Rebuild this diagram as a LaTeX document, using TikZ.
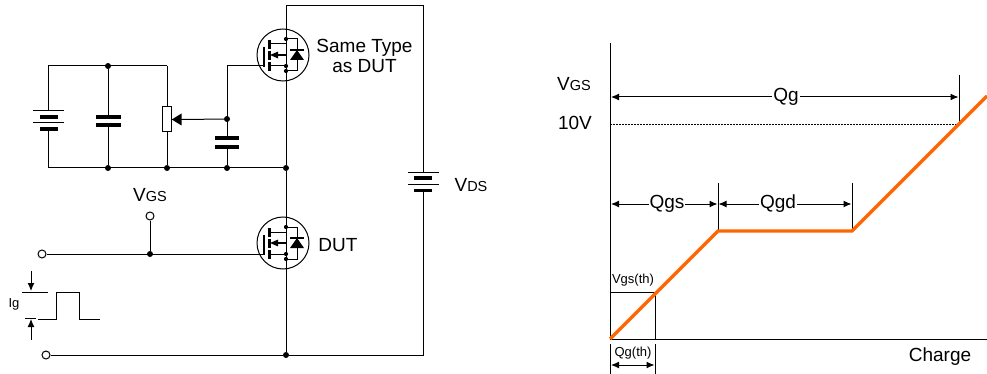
\documentclass[tikz,border=0pt]{standalone}
\usepackage{fontspec}
\setmainfont{Liberation Sans}
\usetikzlibrary{arrows.meta}

\tikzset{
  wire/.style={black, line width=1pt},
  plate/.style={black, line width=3.8pt},
  thinplate/.style={black, line width=1pt},
  dot/.style={circle, fill=black, inner sep=0pt, minimum size=6pt},
  smalldot/.style={circle, fill=black, inner sep=0pt, minimum size=4.2pt},
  terminal/.style={circle, draw=black, fill=white, line width=1pt, inner sep=0pt, minimum size=8pt},
  dim/.style={black, line width=1pt, {Latex[length=8pt,width=7pt]}-{Latex[length=8pt,width=7pt]}},
  tip/.style={black, line width=1pt, -{Latex[length=8pt,width=7pt]}},
  ramp/.style={color={rgb,255:red,255;green,102;blue,0}, line width=3.4pt},
  lbl/.style={inner sep=0pt, font=\fontsize{19}{20}\selectfont},
  sm/.style={inner sep=0pt, font=\fontsize{13}{15}\selectfont},
  mosfet/.pic={
    \draw [black, line width=1pt] (0,0) circle (26);
    \coordinate (-gate) at (-20,11);
    \draw [black, line width=1.8pt] (-19,-8) -- (-19,12);
    \draw [black, line width=2.8pt] (-13.5,-15) -- (-13.5,-6);
    \draw [black, line width=2.8pt] (-13.5,-4) -- (-13.5,5);
    \draw [black, line width=2.8pt] (-13.5,7) -- (-13.5,16);
    \draw [wire] (-13,-11) -- (3,-11);
    \draw [wire] (-13,11) -- (3,11);
    \draw [black, line width=1.8pt] (-6,0) -- (3,0);
    \fill [black] (-13,0) -- (-5,-3.4) -- (-5,3.4) -- cycle;
    \draw [wire] (3,-16) -- (14,-16) -- (14,16) -- (3,16);
    \fill [black] (14,-5) -- (21,5) -- (7,5) -- cycle;
    \draw [black, line width=1.2pt] (7,-5) -- (21,-5);
    \node [smalldot] at (3,-16) {};
    \node [smalldot] at (3,11) {};
    \node [smalldot] at (3,16) {};
  }
}

\begin{document}
\begin{tikzpicture}[x=1pt,y=-1pt]
\useasboundingbox (0,0) rectangle (987,374);
% circuit corners and junctions
\coordinate (topleft) at (286,6);
\coordinate (topright) at (423,6);
\coordinate (botright) at (423,355);
\coordinate (batl) at (48,66);
\coordinate (batlb) at (48,168);
\coordinate (potup) at (167,66);
\coordinate (gatecorner) at (227,66);
\node [dot] (ntop) at (108,66) {};
\node [dot] (nb1) at (108,168) {};
\node [dot] (nb2) at (167,168) {};
\node [dot] (nb3) at (227,168) {};
\node [dot] (nmid) at (286,168) {};
\node [dot] (nwip) at (227,119) {};
\node [dot] (nbot) at (286,355) {};
\node [dot] (ngate) at (150,254) {};
\node [terminal] (tvgs) at (150,216) {};
\node [terminal] (tgate) at (42,254) {};
\node [terminal] (tbot) at (46,355) {};
\pic (qtop) at (283,55) {mosfet};
\pic (qdut) at (283,243) {mosfet};
% wires
\draw [wire] (topleft) -- (nmid);
\draw [wire] (nmid) -- (nbot);
\draw [wire] (topleft) -- (topright) -- (423,172.5);
\draw [wire] (423,190.5) -- (botright) -- (nbot);
\draw [wire] (tbot) -- (nbot);
\draw [wire] (batl) -- (potup);
\draw [wire] (batlb) -- (nmid);
\draw [wire] (batl) -- (48,111);
\draw [wire] (48,129) -- (batlb);
\draw [wire] (ntop) -- (108,117);
\draw [wire] (108,125) -- (nb1);
\draw [wire] (potup) -- (nb2);
\draw [wire] (gatecorner) -- (227,138);
\draw [wire] (227,147) -- (nb3);
\draw [wire] (gatecorner) -- (qtop-gate);
\draw [wire] (tgate) -- (qdut-gate);
\draw [wire] (tvgs) -- (ngate);
% left battery
\draw [thinplate] (33,111) -- (64,111);
\draw [plate] (40,117) -- (58,117);
\draw [thinplate] (33,123) -- (64,123);
\draw [plate] (40,129) -- (58,129);
% capacitors
\draw [plate] (96,117) -- (121,117);
\draw [plate] (96,125) -- (121,125);
\draw [plate] (215,138) -- (239,138);
\draw [plate] (215,147) -- (239,147);
% potentiometer
\node [draw=black, fill=white, line width=1pt, inner sep=0pt, minimum width=8.5pt, minimum height=25pt] (pot) at (167,119.5) {};
\fill [black] (pot.east) -- (181.5,113.5) -- (181.5,125.5) -- cycle;
\draw [wire] (nwip) -- (181,119.5);
% VDS battery
\draw [thinplate] (408,172.5) -- (439,172.5);
\draw [plate] (414,178) -- (432,178);
\draw [thinplate] (408,184.5) -- (439,184.5);
\draw [plate] (414,190.5) -- (432,190.5);
% pulse
\draw [wire] (38,319) -- (56,319) -- (56,292) -- (79,292) -- (79,319) -- (100,319);
\draw [wire] (22,292) -- (48,292);
\draw [wire] (25,318) -- (36,318);
\draw [tip] (31,271) -- (31,291);
\draw [tip] (31,340) -- (31,319);
\node [sm] (lig) at (14,304) {Ig};
% circuit labels
\node [lbl, align=center] (lsame) at (364.5,56) {Same Type\\as DUT};
\node [lbl] (ldut) at (338,245) {DUT};
\node [lbl] (lvgs) at (150,195) {V{\fontsize{14.5}{16}\selectfont GS}};
\node [lbl] (lvds) at (471,185) {V{\fontsize{14.5}{16}\selectfont DS}};
% chart
\coordinate (orig) at (610,339);
\coordinate (yend) at (610,43);
\coordinate (xend) at (987,339);
\coordinate (knee1) at (718,231);
\coordinate (knee2) at (852,231);
\coordinate (rampend) at (987,96);
\coordinate (vth) at (655,292);
\draw [wire] (orig) -- (yend);
\draw [wire] (orig) -- (xend);
\draw [wire] (610,292) -- (vth) -- (655,339);
\draw [wire] (959,75) -- (959,124);
\draw [wire] (718,183) -- (knee1);
\draw [wire] (852,183) -- (knee2);
\draw [wire] (610,344) -- (610,374);
\draw [wire] (655,344) -- (655,374);
\draw [black, line width=0.8pt, dash pattern=on 1.5pt off 1.5pt] (610,124) -- (959,124);
\draw [ramp] (orig) -- (knee1) -- (knee2) -- (rampend);
\draw [dim] (611,97) -- (958.5,97);
\draw [dim] (611,204) -- (717.5,204);
\draw [dim] (718.5,204) -- (851.5,204);
\draw [dim] (611,365) -- (654.5,365);
\node [lbl, fill=white, inner xsep=1pt] (lqg) at (786,97) {Qg};
\node [lbl, fill=white, inner xsep=1pt] (lqgs) at (667,204) {Qgs};
\node [lbl, fill=white, inner xsep=1pt] (lqgd) at (778,204) {Qgd};
\node [lbl] (lvaxis) at (574,84) {V{\fontsize{14.5}{16}\selectfont GS}};
\node [lbl] (lten) at (575,123) {10V};
\node [sm] (lvth) at (633,280) {Vgs(th)};
\node [sm] (lqth) at (633,353) {Qg(th)};
\node [lbl] (lcharge) at (940,357) {Charge};
\end{tikzpicture}
\end{document}
